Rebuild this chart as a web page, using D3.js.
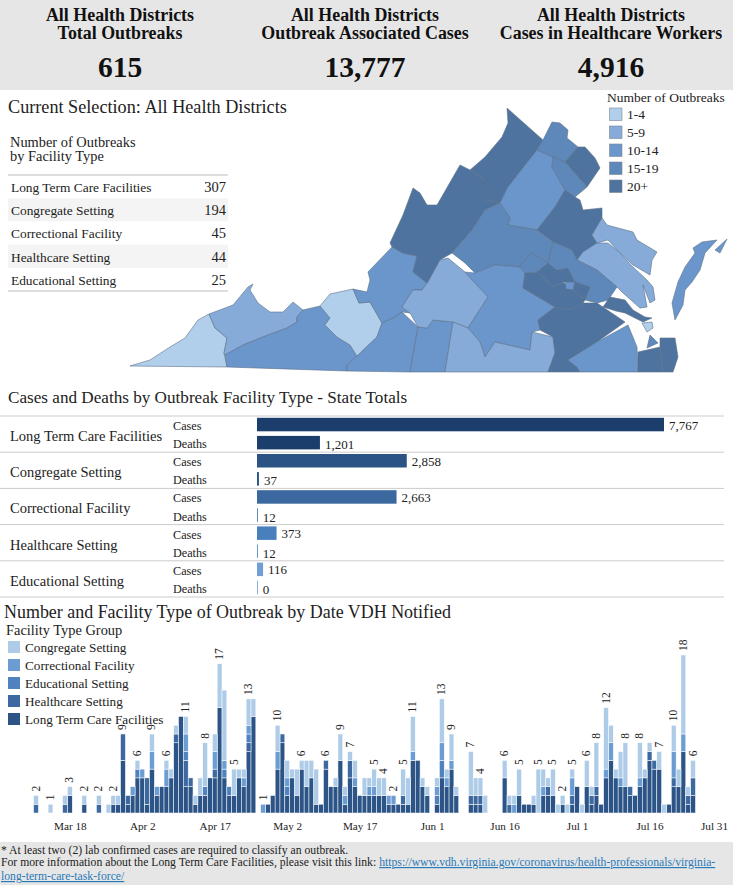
<!DOCTYPE html>
<html><head><meta charset="utf-8">
<script src="https://cdn.jsdelivr.net/npm/d3@7"></script>
<style>
html,body{margin:0;padding:0;background:#fff;}
svg{display:block;font-family:"Liberation Serif","Times New Roman",serif;}
</style></head><body>
<svg id="c" width="733" height="885"></svg>
<script>
// ---------- KPI band
const kpiTitles=[["All Health Districts","Total Outbreaks"],["All Health Districts","Outbreak Associated Cases"],["All Health Districts","Cases in Healthcare Workers"]];
const kpiValues=["615","13,777","4,916"];
// ---------- outbreak table
const facilityTypes=["Long Term Care Facilities","Congregate Setting","Correctional Facility","Healthcare Setting","Educational Setting"];
const outbreakCounts=[307,194,45,44,25];
// ---------- cases / deaths
const caseTotals=[7767,2858,2663,373,116];
const deathTotals=[1201,37,12,12,0];
const barColors=["#1c3e6c","#2b5384","#3b689f","#4a7fbd","#6f9fd3"];
// ---------- timeline, one value per day from Mar 11
const stackGroups=["Long Term Care Facilities","Healthcare Setting","Educational Setting","Correctional Facility","Congregate Setting"];
const ltcDaily=[0,0,0,0,0,0,0,2,0,0, 1,0,0,0,0,0,1,1,6,1, 2,4,4,1,5,2,3,3,4,8, 11,3,3,1,2,2,4,4,12,4, 2,2,4,3,7,11,0,0,1,2, 5,8,2,4,2,5,3,4,1,1, 5,3,3,6,1,4,3,2,2,2, 2,2,2,1,1,1,1,1,6,6, 3,2,0,1,4,3,5,2,0,0, 1,1,1,0,0,0,0,4,0,0, 2,1,1,1,0,2,2,2,0,1, 0,1,3,0,3,1,2,1,4,6, 4,3,3,2,2,3,4,6,5,5, 0,1,3,3,7,1,2];
const healthcareDaily=[1,0,0,0,0,0,1,0,0,0, 0,0,0,1,0,0,0,0,3,1, 0,0,0,3,0,0,0,0,0,1, 0,3,1,0,0,0,0,1,0,0, 0,0,0,0,1,0,0,0,0,0, 0,1,0,0,0,0,0,0,0,0, 1,0,0,0,0,2,0,0,0,0, 0,0,0,0,0,0,1,0,0,0, 0,0,0,0,0,0,0,0,0,0, 1,1,1,0,0,0,0,0,1,0, 0,0,0,0,0,0,1,0,0,0, 0,1,0,0,0,1,1,0,0,0, 0,0,0,1,0,0,0,1,1,0, 0,0,1,0,0,1,2];
const educationalDaily=[0,0,0,0,0,0,0,0,0,0, 0,0,0,0,0,0,0,0,0,0, 0,1,0,0,0,0,0,0,0,0, 0,1,0,0,0,1,0,0,0,1, 1,0,0,0,1,0,0,0,0,0, 0,0,1,0,0,0,0,0,0,0, 0,0,0,0,0,0,0,0,0,0, 0,0,0,0,0,0,0,0,0,0, 0,0,0,1,2,0,0,0,0,0, 0,0,0,0,0,0,0,0,0,0, 0,0,0,0,0,0,0,0,0,0, 0,0,0,0,0,0,0,0,0,0, 0,0,0,0,0,0,0,0,0,0, 0,0,0,0,0,0,0];
const correctionalDaily=[0,0,0,0,0,0,0,0,0,0, 0,0,0,0,0,0,0,0,0,0, 1,0,1,0,2,1,0,2,0,0, 0,2,0,0,0,0,0,2,0,1, 0,0,0,1,1,0,0,1,0,0, 2,0,1,0,0,0,0,0,0,0, 0,0,0,0,1,0,1,0,0,1, 1,0,0,1,1,0,0,0,1,0, 0,0,0,1,2,1,1,0,0,0, 0,0,0,0,0,0,0,0,0,1, 0,0,0,0,0,1,0,0,0,0, 0,2,0,0,0,0,0,0,1,2, 0,1,0,0,0,1,0,0,0,0, 0,0,3,0,2,0,0];
const congregateDaily=[1,0,0,1,0,0,1,1,0,0, 1,0,0,1,0,1,1,1,0,0, 0,1,0,0,2,0,0,1,1,1, 0,2,0,1,2,5,0,2,5,8, 0,3,1,1,3,2,0,0,0,0, 3,0,2,1,3,1,3,2,4,0, 0,0,1,3,1,1,2,0,2,1, 2,2,2,0,0,0,3,3,4,0, 1,1,0,1,5,1,3,1,0,0, 5,2,2,2,0,0,0,2,1,1, 3,0,0,1,5,2,1,3,1,1, 1,1,0,1,3,1,5,0,7,2, 1,3,5,0,0,4,1,1,0,2, 1,0,3,2,9,1,2];
const labelledDays=[0,3,7,10,13,16,18,21,24,27,31,35,38,41,44,47,50,55,60,63,65,70,72,74,76,78,84,86,90,92,97,100,104,107,109,111,114,116,118,122,125,129,132,134,136];
const tickDates=["2020-03-18","2020-04-02","2020-04-17","2020-05-02","2020-05-17","2020-06-01","2020-06-16","2020-07-01","2020-07-16","2020-07-31"];
const groupColors=["#2c5486","#3d69a0","#4f82bf","#6b9cd2","#aecce8"];
const legendOrder=["Congregate Setting","Correctional Facility","Educational Setting","Healthcare Setting","Long Term Care Facilities"];
// ---------- map
const mapBins=["1-4","5-9","10-14","15-19","20+"];
const binColors=["#b1cfeb","#86abd9","#6b96cb","#5e87ba","#4f739f"];
const districtBins=[0,1,2,0,2,2,2,4,4,2,3,4,3,4,1,1,3,1,2,1,4,3,4,2,3,4,2,4,0,3,4,4,2,2,4];
const districtShapes=[
[[130,366],[150,360],[170,347],[185,338],[198,320],[209,314],[215,328],[227,338],[224,353],[227,367]],
[[209,314],[233,305],[248,287],[253,284],[250,290],[258,303],[270,312],[283,312],[293,302],[303,310],[297,317],[297,322],[287,328],[268,335],[243,345],[225,355],[224,353],[227,338],[215,328]],
[[225,355],[243,345],[268,335],[287,328],[297,322],[297,317],[303,310],[320,306],[330,318],[325,325],[337,337],[350,345],[357,356],[347,365],[347,371],[227,367]],
[[320,306],[330,294],[353,289],[359,303],[370,302],[382,323],[377,337],[357,356],[350,345],[337,337],[325,325],[330,318]],
[[353,289],[367,292],[370,280],[368,272],[392,247],[403,253],[417,256],[413,272],[427,283],[422,290],[413,290],[402,307],[410,313],[402,312],[393,318],[382,323],[370,302],[359,303]],
[[382,323],[393,318],[402,312],[418,327],[410,372],[347,371],[347,365],[357,356],[377,337]],
[[418,327],[427,328],[433,320],[453,322],[445,372],[410,372]],
[[413,188],[420,193],[427,205],[437,205],[460,165],[470,170],[485,180],[485,200],[500,203],[485,210],[472,230],[452,253],[440,260],[428,282],[427,283],[413,272],[417,256],[403,253],[392,247],[390,243],[403,215]],
[[507,108],[543,140],[537,150],[508,187],[500,203],[485,200],[485,180],[470,170],[485,157],[502,137],[508,123]],
[[537,150],[553,157],[552,167],[565,190],[555,207],[537,230],[520,227],[508,225],[510,218],[500,203],[508,187]],
[[543,140],[552,122],[560,123],[568,130],[567,138],[578,147],[565,162],[553,157],[537,150]],
[[578,147],[585,147],[595,158],[600,168],[587,187],[565,162]],
[[553,157],[565,162],[587,187],[575,197],[565,190],[552,167]],
[[565,190],[575,197],[580,200],[583,210],[602,208],[602,218],[592,235],[597,243],[583,252],[577,260],[572,250],[553,242],[537,230],[555,207]],
[[602,218],[607,225],[633,232],[637,240],[657,252],[652,260],[650,275],[633,265],[617,250],[608,240],[597,243],[592,235]],
[[597,243],[608,243],[620,253],[633,267],[647,280],[653,287],[655,300],[650,303],[643,285],[647,307],[640,308],[623,293],[617,287],[597,270],[577,260],[583,252]],
[[500,203],[510,218],[508,225],[520,227],[537,230],[553,242],[548,263],[532,253],[522,263],[520,267],[495,265],[475,273],[465,263],[452,253],[472,230],[485,210]],
[[448,258],[465,272],[488,297],[468,328],[453,322],[433,320],[427,328],[418,327],[410,313],[402,307],[413,290],[422,290],[428,282],[440,260]],
[[475,273],[495,265],[520,267],[525,273],[523,288],[555,307],[538,320],[540,330],[532,332],[530,350],[495,342],[485,357],[480,342],[468,328],[488,297],[465,272]],
[[468,328],[480,342],[485,357],[495,342],[530,350],[532,332],[553,337],[555,353],[548,372],[445,372],[453,322]],
[[523,288],[525,273],[537,272],[553,287],[563,282],[573,290],[585,300],[583,303],[570,310],[555,307]],
[[520,267],[522,263],[532,253],[548,263],[537,272],[525,273]],
[[557,270],[568,268],[575,282],[565,282],[563,282],[553,287],[537,272],[548,263]],
[[565,282],[575,282],[573,290],[566,289]],
[[553,242],[572,250],[577,260],[597,270],[617,287],[608,300],[597,303],[585,300],[590,287],[575,282],[568,268],[557,270],[548,263]],
[[555,307],[570,310],[583,303],[597,303],[625,322],[597,342],[568,360],[577,367],[580,372],[548,372],[555,353],[553,337],[540,330],[538,320]],
[[568,360],[597,342],[628,325],[637,347],[638,372],[580,372],[577,367]],
[[610,297],[625,300],[633,310],[645,317],[652,318],[643,322],[625,313],[616,311],[603,307]],
[[642,323],[652,322],[653,328],[647,332]],
[[650,335],[658,343],[647,348]],
[[638,352],[660,347],[663,372],[638,372]],
[[660,338],[675,338],[678,357],[673,372],[663,372],[660,347]],
[[693,248],[702,242],[717,240],[705,253],[700,270],[692,282],[685,290],[683,305],[675,320],[672,303],[678,282],[685,267],[695,253]],
[[715,250],[727,239],[720,253]],
[[575,282],[590,287],[585,300],[573,290]]
];
// ---------- footer
const footnote="* At least two (2) lab confirmed cases are required to classify an outbreak.";
const moreInfo="For more information about the Long Term Care Facilities, please visit this link: ";
const linkLines=["https://www.vdh.virginia.gov/coronavirus/health-professionals/virginia-","long-term-care-task-force/"];

const svg=d3.select("#c");
const txt=(g,x,y,s,size,o={})=>g.append("text").attr("x",x).attr("y",y).text(s).attr("font-size",size).attr("fill",o.fill||"#222").attr("text-anchor",o.anchor||"start").attr("font-weight",o.weight||"normal");

// KPI band
svg.append("rect").attr("x",0).attr("y",0).attr("width",733).attr("height",90).attr("fill","#e6e6e6");
kpiTitles.forEach((t,i)=>{
  const cx=[120,365,611][i];
  txt(svg,cx,21,t[0],17.9,{anchor:"middle",weight:"bold",fill:"#111"});
  txt(svg,cx,39,t[1],17.9,{anchor:"middle",weight:"bold",fill:"#111"});
  txt(svg,cx,77,kpiValues[i],29.5,{anchor:"middle",weight:"bold",fill:"#111"});
});

txt(svg,8,113,"Current Selection: All Health Districts",18.2);
txt(svg,10,147,"Number of Outbreaks",14.4);
txt(svg,10,161,"by Facility Type",14.4);

// Table
const rowY=d3.scaleBand().domain(facilityTypes).range([175,291]);
facilityTypes.forEach((f,i)=>{
  if(i%2==1) svg.append("rect").attr("x",8).attr("y",rowY(f)).attr("width",220).attr("height",rowY.bandwidth()).attr("fill","#f4f4f4");
  txt(svg,11,rowY(f)+17,f,13.4);
  txt(svg,226,rowY(f)+17,outbreakCounts[i],14.5,{anchor:"end"});
});
[175,291].forEach(y=>svg.append("line").attr("x1",8).attr("x2",228).attr("y1",y).attr("y2",y).attr("stroke","#bbb"));

// Map
const path=d3.geoPath(d3.geoIdentity());
svg.append("g").selectAll("path")
  .data(districtShapes.map((r,i)=>({type:"Feature",bin:districtBins[i],geometry:{type:"Polygon",coordinates:[r.concat([r[0]])]}})))
  .join("path").attr("d",path)
  .attr("fill",d=>binColors[d.bin]).attr("stroke","#5d7088").attr("stroke-width",.6).attr("stroke-linejoin","round");
// Map legend
txt(svg,607,102,"Number of Outbreaks",13.5);
const mapLegY=d3.scaleBand().domain(mapBins).range([106,196]);
mapBins.forEach((b,i)=>{
  svg.append("rect").attr("x",609.5).attr("y",mapLegY(b)+2).attr("width",12.5).attr("height",12.5).attr("fill",binColors[i]).attr("stroke","#7b8794").attr("stroke-width",.6);
  txt(svg,627,mapLegY(b)+13,b,13.5);
});

// Cases and deaths
txt(svg,8,403,"Cases and Deaths by Outbreak Facility Type - State Totals",17.15);
const xBar=d3.scaleLinear().domain([0,7767]).range([257,664]);
const yFac=d3.scaleBand().domain(facilityTypes).range([416,597]);
const yMeasure=d3.scaleBand().domain(["Cases","Deaths"]).range([0,36.2]);
svg.append("line").attr("x1",0).attr("x2",724).attr("y1",416).attr("y2",416).attr("stroke","#ccc");
facilityTypes.forEach((f,i)=>{
  const y0=yFac(f);
  svg.append("line").attr("x1",0).attr("x2",724).attr("y1",y0+yFac.bandwidth()).attr("y2",y0+yFac.bandwidth()).attr("stroke","#ccc");
  txt(svg,10,y0+25,f,14.5);
  [["Cases",caseTotals[i]],["Deaths",deathTotals[i]]].forEach(([m,v])=>{
    const y=y0+yMeasure(m);
    txt(svg,173,y+14,m,12.2);
    const w=Math.max(xBar(v)-xBar(0),m=="Deaths"&&v<50?(v>20?1.5:.8):0);
    svg.append("rect").attr("x",xBar(0)).attr("y",y+1.8).attr("width",w).attr("height",13.5).attr("fill",barColors[i]);
    txt(svg,xBar(0)+w+5,y+(m=="Cases"?13.5:15),d3.format(",")(v),13);
  });
});

// Timeline
txt(svg,4,618,"Number and Facility Type of Outbreak by Date VDH Notified",17.95);
txt(svg,6,635,"Facility Type Group",14.4);
const legY=d3.scaleBand().domain(legendOrder).range([640,730]);
legendOrder.forEach(g=>{
  const idx=stackGroups.indexOf(g);
  svg.append("rect").attr("x",8).attr("y",legY(g)+1).attr("width",12).attr("height",12).attr("fill",groupColors[idx]);
  txt(svg,25,legY(g)+12,g,13.2);
});
const start=new Date(Date.UTC(2020,2,11));
const xDay=d3.scaleUtc().domain([start,new Date(Date.UTC(2020,6,31))]).range([36,722]);
const yCount=d3.scaleLinear().domain([0,18]).range([813,655]);
const days=d3.utcDay.range(start,d3.utcDay.offset(start,ltcDaily.length));
const rows=days.map((d,i)=>({date:d,"Long Term Care Facilities":ltcDaily[i],"Healthcare Setting":healthcareDaily[i],"Educational Setting":educationalDaily[i],"Correctional Facility":correctionalDaily[i],"Congregate Setting":congregateDaily[i]}));
const stacked=d3.stack().keys(stackGroups)(rows);
svg.append("g").selectAll("g").data(stacked).join("g").attr("fill",(s,i)=>groupColors[i])
  .selectAll("rect").data(s=>s.filter(d=>d[1]>d[0])).join("rect")
  .attr("x",d=>xDay(d.data.date)-2.4).attr("width",4.83)
  .attr("y",d=>yCount(d[1])).attr("height",d=>Math.max(0,yCount(d[0])-yCount(d[1])))
  .attr("stroke","#fff").attr("stroke-width",.5);
const totals=rows.map(r=>d3.sum(stackGroups,g=>r[g]));
svg.append("g").selectAll("text").data(labelledDays).join("text")
  .attr("transform",i=>`translate(${xDay(days[i])+3.5},${yCount(totals[i])-4}) rotate(-90)`)
  .attr("font-size",11.5).attr("fill","#222").text(i=>totals[i]);
const axis=d3.axisBottom(xDay).tickValues(tickDates.map(s=>new Date(s+"T00:00:00Z"))).tickSize(0).tickPadding(0).tickFormat(d3.utcFormat("%b %-d"));
const ax=svg.append("g").attr("transform","translate(0,822)").call(axis);
ax.select(".domain").remove();
ax.selectAll("text").attr("font-family",'"Liberation Serif",serif').attr("font-size",11.2).attr("fill","#222");
ax.selectAll("text").filter((d,i)=>i==tickDates.length-1).attr("dx",-8);

// Footer
svg.append("rect").attr("x",0).attr("y",842).attr("width",733).attr("height",43).attr("fill","#e6e6e6");
txt(svg,1,854,footnote,11.7);
const more=txt(svg,1,866,moreInfo.trim(),11.7);
const w0=more.node().getComputedTextLength();
txt(svg,1+w0+3,866,linkLines[0],11.7,{fill:"#2a7ab8"}).attr("text-decoration","underline");
txt(svg,1,880,linkLines[1],11.7,{fill:"#2a7ab8"}).attr("text-decoration","underline");
</script></body></html>
